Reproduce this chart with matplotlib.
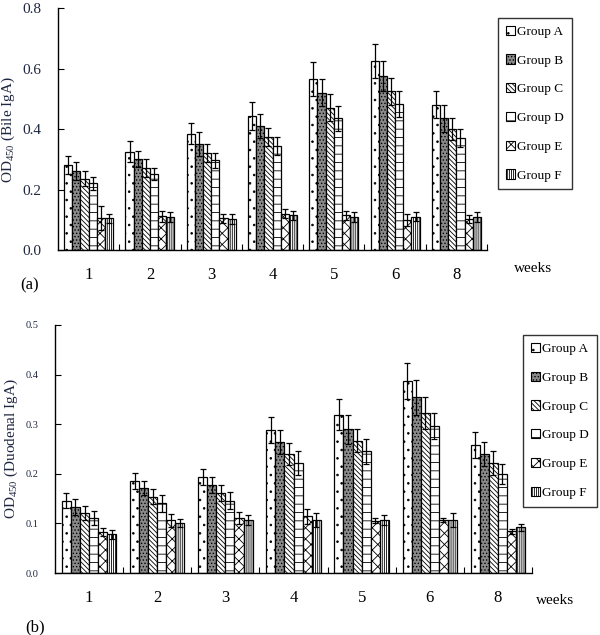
import matplotlib
matplotlib.use("Agg")
import matplotlib.pyplot as plt
import numpy as np
from matplotlib.patches import Patch

plt.rcParams['font.family'] = ['Liberation Serif', 'DejaVu Serif']
plt.rcParams['mathtext.fontset'] = 'custom'
plt.rcParams['mathtext.rm'] = 'Liberation Serif'
plt.rcParams['hatch.linewidth'] = 0.6

weeks = ['1', '2', '3', '4', '5', '6', '8']
groups = ['Group A', 'Group B', 'Group C', 'Group D', 'Group E', 'Group F']

# Panel (a): Bile IgA
bile_A = [0.28, 0.325, 0.385, 0.443, 0.565, 0.625, 0.48]
bile_B = [0.26, 0.30, 0.35, 0.41, 0.52, 0.575, 0.435]
bile_C = [0.235, 0.27, 0.32, 0.375, 0.47, 0.525, 0.40]
bile_D = [0.22, 0.25, 0.297, 0.345, 0.435, 0.483, 0.37]
bile_E = [0.105, 0.112, 0.105, 0.12, 0.115, 0.10, 0.103]
bile_F = [0.105, 0.11, 0.103, 0.115, 0.108, 0.11, 0.108]
bile_A_err = [0.03, 0.035, 0.035, 0.045, 0.055, 0.055, 0.045]
bile_B_err = [0.03, 0.027, 0.04, 0.04, 0.045, 0.05, 0.045]
bile_C_err = [0.025, 0.03, 0.03, 0.03, 0.045, 0.045, 0.035]
bile_D_err = [0.02, 0.02, 0.025, 0.03, 0.04, 0.044, 0.03]
bile_E_err = [0.04, 0.018, 0.015, 0.015, 0.015, 0.02, 0.013]
bile_F_err = [0.015, 0.017, 0.017, 0.015, 0.017, 0.015, 0.017]

# Panel (b): Duodenal IgA
duo_A = [0.146, 0.185, 0.193, 0.289, 0.319, 0.387, 0.258]
duo_B = [0.133, 0.171, 0.177, 0.264, 0.29, 0.354, 0.24]
duo_C = [0.121, 0.154, 0.161, 0.24, 0.267, 0.322, 0.221]
duo_D = [0.111, 0.141, 0.146, 0.221, 0.245, 0.297, 0.20]
duo_E = [0.082, 0.106, 0.111, 0.114, 0.105, 0.107, 0.084]
duo_F = [0.078, 0.101, 0.107, 0.107, 0.107, 0.107, 0.092]
duo_A_err = [0.015, 0.016, 0.016, 0.026, 0.031, 0.036, 0.027]
duo_B_err = [0.016, 0.014, 0.016, 0.025, 0.029, 0.035, 0.024]
duo_C_err = [0.015, 0.015, 0.016, 0.023, 0.023, 0.032, 0.024]
duo_D_err = [0.014, 0.017, 0.017, 0.024, 0.025, 0.026, 0.02]
duo_E_err = [0.008, 0.013, 0.012, 0.015, 0.005, 0.004, 0.005]
duo_F_err = [0.009, 0.008, 0.01, 0.014, 0.01, 0.014, 0.007]

styles = [
    dict(facecolor='white', hatch='..'),
    dict(facecolor='#8a8a8a', hatch='.....'),
    dict(facecolor='white', hatch='\\\\\\\\\\\\\\'),
    dict(facecolor='white', hatch='--'),
    dict(facecolor='white', hatch='xxx'),
    dict(facecolor='white', hatch='||||||||'),
]

label_col = '#1f2640'

fig = plt.figure(figsize=(6.0, 6.35), dpi=100)


def draw_panel(ax, vals, errs, ymax, ystep, ylabel, tick_fs):
    n = len(vals)
    x = np.arange(len(weeks))
    w = 0.8 / n
    for i, (v, e, st) in enumerate(zip(vals, errs, styles)):
        pos = x - 0.4 + w * (i + 0.5)
        ax.bar(pos, v, width=w, edgecolor='black', linewidth=0.9, **st)
        ax.errorbar(pos, v, yerr=e, fmt='none', ecolor='black',
                    elinewidth=0.9, capsize=2.5, capthick=0.9)
    ax.set_xlim(-0.5, len(weeks) - 0.5)
    ax.set_ylim(0, ymax)
    ticks = np.arange(0, ymax + 1e-9, ystep)
    ax.set_yticks(ticks)
    ax.set_yticklabels([f'{t:.1f}' for t in ticks], fontsize=tick_fs, color=label_col)
    ax.set_xticks(x)
    ax.set_xticklabels(weeks, fontsize=12, color='black')
    ax.tick_params(axis='x', length=0, pad=12)
    ax.set_xticks(np.arange(0.5, len(weeks) - 0.4, 1.0), minor=True)
    ax.tick_params(axis='x', which='minor', direction='in', length=4, width=0.8)
    ax.tick_params(axis='y', direction='in', length=4, width=0.8, pad=12)
    for s in ['top', 'right']:
        ax.spines[s].set_visible(False)
    ax.spines['left'].set_linewidth(1.0)
    ax.spines['bottom'].set_linewidth(1.0)
    ax.set_ylabel(ylabel, fontsize=11, color=label_col)


ax1 = fig.add_axes([0.0967, 0.6063, 0.715, 0.381])
draw_panel(ax1,
           [bile_A, bile_B, bile_C, bile_D, bile_E, bile_F],
           [bile_A_err, bile_B_err, bile_C_err, bile_D_err, bile_E_err, bile_F_err],
           0.8, 0.2, r'OD$_{450}$ (Bile IgA)', 11)

ax2 = fig.add_axes([0.0917, 0.0976, 0.795, 0.3906])
draw_panel(ax2,
           [duo_A, duo_B, duo_C, duo_D, duo_E, duo_F],
           [duo_A_err, duo_B_err, duo_C_err, duo_D_err, duo_E_err, duo_F_err],
           0.5, 0.1, r'OD$_{450}$ (Duodenal IgA)', 7.5)

handles = [Patch(edgecolor='black', linewidth=0.8, label=g, **st)
           for g, st in zip(groups, styles)]

for anchor in [(0.83, 0.972), (0.872, 0.4724)]:
    leg = fig.legend(handles=handles, loc='upper left', bbox_to_anchor=anchor,
                     frameon=True, fancybox=False, edgecolor='black',
                     fontsize=9.5, handlelength=0.7, handleheight=0.7,
                     handletextpad=0.15, labelspacing=1.25, borderpad=0.6,
                     borderaxespad=0)
    leg.get_frame().set_linewidth(1.0)

fig.text(533 / 600, 1 - 268 / 635, 'weeks', fontsize=11, ha='center', va='center')
fig.text(555 / 600, 1 - 600 / 635, 'weeks', fontsize=11, ha='center', va='center')
fig.text(30 / 600, 1 - 285 / 635, '(a)', fontsize=12, ha='center', va='center')
fig.text(35 / 600, 1 - 627 / 635, '(b)', fontsize=12, ha='center', va='center')

fig.savefig('out.png', dpi=100)
